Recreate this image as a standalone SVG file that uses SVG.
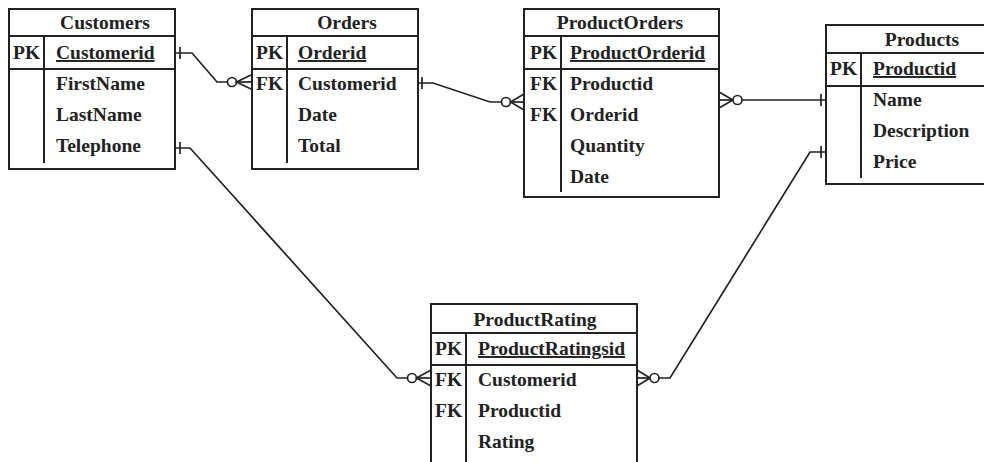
<svg xmlns="http://www.w3.org/2000/svg" width="984" height="462" viewBox="0 0 984 462">
<style>
.box{fill:#fff;stroke:#222;stroke-width:2}
.ln{stroke:#222;stroke-width:2;fill:none}
.c{stroke:#222;stroke-width:1.7;fill:none}
.ci{stroke:#222;stroke-width:1.7;fill:#fff}
text{font-family:"Liberation Serif","Times New Roman",serif;font-weight:bold;font-size:19.5px;fill:#222}
.t{text-anchor:middle}
.u{text-decoration:underline}
</style>
<rect width="984" height="462" fill="#fff"/>
<g id="connectors">
  <!-- Customers to Orders -->
  <polyline class="c" points="175,53 192,53 217,82 227.5,82"/>
  <line class="c" x1="180" y1="47" x2="180" y2="59"/>
  <circle class="ci" cx="232" cy="82" r="4.5"/>
  <polyline class="c" points="251,75 236.5,82 251,89"/>
  <line class="c" x1="236.5" y1="82" x2="251" y2="82"/>
  <!-- Orders to ProductOrders -->
  <polyline class="c" points="418,83 433,83 490,102 501.5,102"/>
  <line class="c" x1="422" y1="77" x2="422" y2="89"/>
  <circle class="ci" cx="506" cy="102" r="4.5"/>
  <polyline class="c" points="524,94 510.5,102 524,110"/>
  <line class="c" x1="510.5" y1="102" x2="524" y2="102"/>
  <!-- ProductOrders to Products -->
  <polyline class="c" points="719,92 733,100 719,108"/>
  <line class="c" x1="719" y1="100" x2="733" y2="100"/>
  <circle class="ci" cx="737.5" cy="100" r="4.5"/>
  <line class="c" x1="742" y1="100" x2="826" y2="100"/>
  <line class="c" x1="821" y1="94" x2="821" y2="106"/>
  <!-- Customers to ProductRating -->
  <polyline class="c" points="175,148 190,148 397,378 407.5,378"/>
  <line class="c" x1="180" y1="142" x2="180" y2="154"/>
  <circle class="ci" cx="412" cy="378" r="4.5"/>
  <polyline class="c" points="431,370 416.5,378 431,386"/>
  <line class="c" x1="416.5" y1="378" x2="431" y2="378"/>
  <!-- ProductRating to Products -->
  <polyline class="c" points="637,370 650,378 637,386"/>
  <line class="c" x1="637" y1="378" x2="650" y2="378"/>
  <circle class="ci" cx="654.5" cy="378" r="4.5"/>
  <polyline class="c" points="659,378 670,378 810,152 826,152"/>
  <line class="c" x1="821" y1="146" x2="821" y2="158"/>
</g>
<g id="customers">
  <rect class="box" x="9" y="9" width="166" height="160"/>
  <line class="ln" x1="9" y1="36" x2="175" y2="36"/>
  <line class="ln" x1="9" y1="69" x2="175" y2="69"/>
  <line class="ln" x1="44" y1="36" x2="44" y2="163"/>
  <text class="t" x="105" y="29">Customers</text>
  <text x="13" y="59">PK</text>
  <text class="u" x="56" y="59">Customerid</text>
  <text x="56" y="90">FirstName</text>
  <text x="56" y="121">LastName</text>
  <text x="56" y="152">Telephone</text>
</g>
<g id="orders">
  <rect class="box" x="252" y="9" width="166" height="160"/>
  <line class="ln" x1="252" y1="36" x2="418" y2="36"/>
  <line class="ln" x1="252" y1="69" x2="418" y2="69"/>
  <line class="ln" x1="287" y1="36" x2="287" y2="163"/>
  <text class="t" x="347" y="29">Orders</text>
  <text x="256" y="59">PK</text>
  <text class="u" x="298" y="59">Orderid</text>
  <text x="256" y="90">FK</text>
  <text x="298" y="90">Customerid</text>
  <text x="298" y="121">Date</text>
  <text x="298" y="152">Total</text>
</g>
<g id="productorders">
  <rect class="box" x="524" y="9" width="195" height="188"/>
  <line class="ln" x1="524" y1="36" x2="719" y2="36"/>
  <line class="ln" x1="524" y1="69" x2="719" y2="69"/>
  <line class="ln" x1="561" y1="36" x2="561" y2="192"/>
  <text class="t" x="620" y="29">ProductOrders</text>
  <text x="530" y="59">PK</text>
  <text class="u" x="570" y="59">ProductOrderid</text>
  <text x="530" y="90">FK</text>
  <text x="570" y="90">Productid</text>
  <text x="530" y="121">FK</text>
  <text x="570" y="121">Orderid</text>
  <text x="570" y="152">Quantity</text>
  <text x="570" y="183">Date</text>
</g>
<g id="products">
  <rect class="box" x="826" y="25" width="170" height="159"/>
  <line class="ln" x1="826" y1="53" x2="996" y2="53"/>
  <line class="ln" x1="826" y1="86" x2="996" y2="86"/>
  <line class="ln" x1="861" y1="53" x2="861" y2="178"/>
  <text class="t" x="922" y="46">Products</text>
  <text x="830" y="75">PK</text>
  <text class="u" x="873" y="75">Productid</text>
  <text x="873" y="106">Name</text>
  <text x="873" y="137">Description</text>
  <text x="873" y="168">Price</text>
</g>
<g id="productrating">
  <rect class="box" x="431" y="304" width="206" height="180"/>
  <line class="ln" x1="431" y1="333" x2="637" y2="333"/>
  <line class="ln" x1="431" y1="365" x2="637" y2="365"/>
  <line class="ln" x1="466" y1="333" x2="466" y2="470"/>
  <text class="t" x="535" y="326">ProductRating</text>
  <text x="435" y="355">PK</text>
  <text class="u" x="478" y="355">ProductRatingsid</text>
  <text x="435" y="386">FK</text>
  <text x="478" y="386">Customerid</text>
  <text x="435" y="417">FK</text>
  <text x="478" y="417">Productid</text>
  <text x="478" y="448">Rating</text>
</g>
</svg>
